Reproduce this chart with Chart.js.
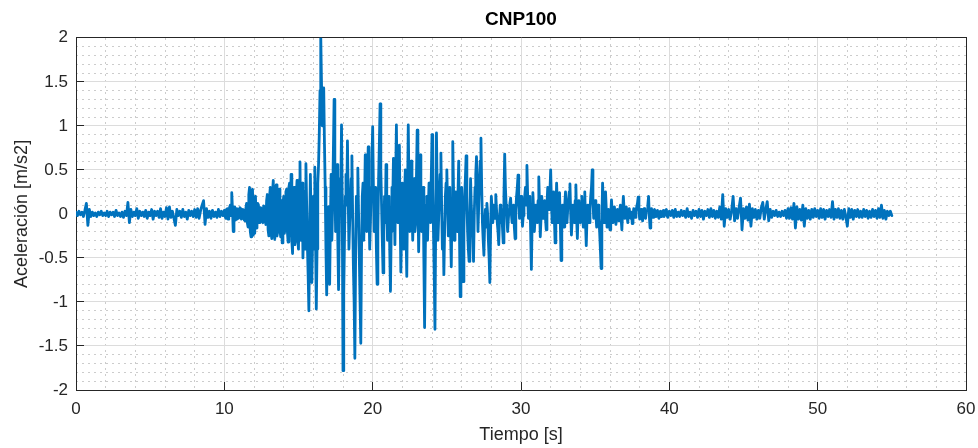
<!DOCTYPE html>
<html>
<head>
<meta charset="utf-8">
<title>CNP100</title>
<script src="https://cdn.jsdelivr.net/npm/chart.js@4.4.1/dist/chart.umd.min.js"></script>
<style>
  html, body { margin: 0; padding: 0; background: #fff; }
  canvas { display: block; }
</style>
</head>
<body>
<canvas id="accel" width="978" height="448"></canvas>
<script>
// acceleration [m/s2]
// 0 - 10 s, one sample every 0.1 s (one row = 1 s)
const acc0to10 = [
  0.02, -0.02, 0.03, -0.01, 0.02, -0.03, 0.04, 0.12, -0.13, 0.05,
  -0.03, 0.02, -0.02, 0.01, -0.03, 0.02, -0.01, 0.03, -0.02, 0.01,
  -0.02, 0.03, -0.03, 0.02, -0.01, 0.02, -0.03, 0.04, -0.02, 0.01,
  -0.03, 0.02, -0.04, 0.03, -0.02, 0.13, -0.10, 0.05, -0.03, 0.02,
  -0.02, 0.06, -0.05, 0.03, -0.02, 0.02, -0.03, 0.04, -0.05, 0.02,
  -0.02, 0.05, -0.06, 0.03, -0.02, 0.03, -0.04, 0.06, -0.05, 0.02,
  -0.03, 0.07, -0.06, 0.08, -0.04, 0.03, -0.05, -0.13, 0.05, -0.02,
  0.03, -0.04, 0.05, -0.03, 0.02, -0.06, 0.04, -0.02, 0.03, -0.03,
  0.05, -0.04, 0.06, -0.05, 0.04, 0.10, 0.15, -0.12, 0.06, -0.04,
  0.03, -0.05, 0.04, -0.03, 0.02, -0.04, 0.05, -0.03, 0.03, -0.02
];
// 10 - 40 s, strong motion, one sample every 0.05 s (one row = 0.5 s)
const acc10to40 = [
  0.04, -0.03, -0.05, 0.05, 0.06, -0.06, -0.04, 0.07, 0.10, -0.02,
  0.24, 0.05, -0.20, -0.05, 0.08, -0.07, -0.06, 0.06, 0.05, -0.05,
  -0.04, 0.07, 0.06, -0.06, -0.05, 0.05, 0.04, -0.07, -0.08, 0.06,
  0.12, -0.10, -0.15, 0.22, 0.30, -0.20, -0.26, 0.25, 0.28, -0.24,
  -0.22, 0.18, 0.20, -0.16, -0.14, 0.12, 0.10, -0.10, -0.08, 0.07,
  0.06, -0.08, -0.10, 0.09, 0.08, -0.06, -0.12, 0.15, 0.22, -0.18,
  -0.25, 0.20, 0.30, -0.22, -0.28, 0.25, 0.38, -0.15, -0.29, 0.26,
  0.33, -0.25, -0.20, 0.24, 0.28, -0.18, -0.26, 0.15, -0.33, 0.10,
  0.20, -0.22, -0.15, 0.25, 0.28, -0.20, -0.32, 0.30, 0.35, -0.25,
  0.45, -0.30, -0.45, 0.25, 0.30, -0.35, -0.28, 0.20, 0.38, -0.30,
  -0.40, 0.30, 0.59, -0.30, -0.20, 0.35, -0.50, -0.10, 0.25, -0.40,
  0.57, 0.10, -0.35, -0.70, -1.10, -0.20, 0.45, -0.10, -0.78, -0.30,
  0.20, -0.40, 0.53, -0.30, -1.08, -0.40, 0.35, 0.55, 0.90, 1.40,
  2.02, 1.50, 1.00, 1.20, 1.43, 0.80, 0.30, -0.40, -0.92, -0.30,
  0.08, -0.50, -0.80, -0.10, 0.45, -0.30, 0.10, 0.70, 1.30, 0.40,
  -0.20, 0.30, 0.56, -0.30, -0.86, -0.20, 0.40, 0.20, 1.01, 0.10,
  -1.78, -0.90, -0.30, 0.20, 0.45, 0.10, 0.83, 0.20, -0.40, -0.10,
  0.10, 0.40, 0.66, 0.00, -0.60, -1.00, -1.64, -0.50, 0.20, 0.10,
  0.52, 0.00, -0.50, -1.00, -1.47, -0.40, 0.20, 0.35, -0.30, 0.10,
  0.67, 0.20, -0.20, 0.40, 0.76, 0.10, -0.40, -0.10, 0.30, 0.60,
  0.99, 0.30, -0.20, 0.10, 0.30, -0.40, -0.80, -0.20, 0.40, 0.80,
  1.25, 0.50, 0.10, -0.30, -0.67, -0.20, 0.20, -0.10, 0.56, 0.10,
  -0.30, -0.10, 0.20, -0.40, -0.88, -0.20, 0.30, 0.10, 0.63, 0.20,
  -0.35, 0.40, 1.01, 0.30, -0.10, 0.30, 0.78, 0.00, -0.66, -0.20,
  0.35, 0.10, -0.40, 0.20, 0.50, -0.20, -0.71, 0.20, 1.01, 0.30,
  -0.20, 0.20, 0.60, 0.10, -0.30, 0.05, 0.40, -0.20, -0.10, 0.40,
  0.95, 0.20, -0.43, 0.10, 0.67, 0.20, -0.20, 0.10, 0.30, -0.50,
  -1.29, -0.40, 0.10, 0.20, -0.30, 0.05, 0.35, 0.10, -0.10, 0.40,
  0.90, 0.30, -0.20, -0.70, -1.31, -0.10, 0.92, 0.30, -0.30, -0.05,
  0.20, 0.45, 0.69, 0.10, -0.40, -0.10, -0.69, -0.20, 0.20, 0.35,
  0.50, 0.10, -0.25, 0.05, 0.30, -0.20, -0.60, 0.10, 0.82, 0.30,
  -0.30, 0.05, 0.25, -0.05, -0.20, 0.20, 0.60, -0.20, -0.94, -0.30,
  0.30, -0.20, -0.77, -0.20, 0.20, 0.40, 0.66, 0.20, -0.20, -0.40,
  -0.54, -0.10, 0.40, 0.10, -0.10, -0.30, -0.54, 0.00, 0.30, 0.45,
  0.65, 0.20, -0.20, 0.10, 0.40, 0.60, 0.86, 0.30, -0.10, -0.30,
  -0.47, -0.10, 0.05, -0.15, 0.12, 0.00, -0.30, -0.50, -0.78, -0.20,
  0.20, 0.05, -0.10, 0.10, 0.05, -0.05, 0.22, 0.05, -0.10, -0.20,
  -0.35, -0.05, 0.10, -0.10, 0.05, -0.15, -0.33, 0.20, 0.68, 0.30,
  0.10, -0.05, -0.20, -0.05, 0.05, 0.12, 0.18, 0.00, -0.10, 0.05,
  0.10, -0.15, -0.28, 0.05, 0.20, 0.30, 0.44, 0.10, -0.05, 0.10,
  0.20, 0.05, -0.14, -0.02, 0.10, 0.20, 0.30, 0.10, 0.55, 0.20,
  -0.05, 0.10, 0.20, -0.20, -0.63, -0.10, 0.24, 0.05, -0.20, -0.05,
  0.10, 0.00, -0.10, 0.15, 0.42, 0.10, -0.26, -0.05, 0.20, 0.05,
  -0.05, 0.10, 0.15, -0.05, -0.18, 0.10, 0.30, 0.10, 0.05, 0.25,
  0.50, 0.15, -0.10, 0.05, 0.25, -0.05, -0.33, 0.00, 0.35, 0.10,
  -0.10, 0.10, 0.24, -0.10, -0.53, -0.10, 0.10, -0.05, -0.15, 0.10,
  0.25, 0.05, -0.10, 0.05, 0.15, 0.25, 0.34, 0.00, -0.24, -0.05,
  0.10, 0.00, -0.10, 0.15, 0.33, -0.05, -0.28, 0.00, 0.15, 0.05,
  -0.10, 0.05, 0.20, 0.00, -0.15, 0.10, 0.25, -0.10, -0.36, -0.05,
  0.10, 0.00, -0.10, 0.05, 0.20, 0.30, 0.50, 0.15, -0.05, 0.05,
  0.15, 0.00, -0.15, -0.05, 0.10, -0.05, -0.20, -0.40, -0.62, -0.10,
  0.35, 0.10, -0.10, 0.05, 0.25, 0.05, -0.15, -0.05, 0.05, -0.10,
  -0.18, 0.00, 0.16, 0.02, -0.10, 0.03, 0.08, -0.04, -0.12, 0.00,
  0.05, -0.03, -0.08, 0.04, 0.10, -0.05, -0.18, 0.02, 0.20, 0.05,
  -0.05, 0.03, 0.08, -0.02, -0.10, 0.02, 0.06, -0.03, -0.05, 0.02,
  -0.11, -0.02, 0.06, 0.00, -0.04, 0.03, 0.08, 0.12, 0.19, 0.04,
  -0.06, 0.02, 0.05, -0.03, -0.08, 0.02, 0.06, -0.02, -0.05, 0.03,
  0.04, 0.10, 0.20, -0.02, -0.16, -0.04, 0.06, -0.02, -0.04, 0.03,
  0.05, -0.02, -0.03, 0.03, 0.04, -0.02, -0.05, 0.02, 0.03, -0.03,
  -0.02, 0.03, 0.04, -0.03, -0.03, 0.04, 0.05, -0.02, -0.04, 0.02
];
// 40 - 55 s, one sample every 0.1 s (one row = 1 s)
const acc40to55 = [
  0.03, -0.02, 0.04, -0.04, 0.05, -0.03, 0.02, -0.03, 0.04, -0.02,
  0.03, -0.04, 0.06, -0.03, 0.02, -0.05, 0.04, -0.02, 0.03, -0.04,
  0.05, -0.03, 0.04, -0.06, 0.03, -0.02, 0.05, -0.04, 0.06, -0.03,
  0.04, -0.05, 0.03, -0.04, 0.08, -0.06, 0.22, -0.14, 0.06, -0.04,
  0.05, -0.06, 0.04, 0.20, -0.08, 0.06, -0.05, 0.07, 0.18, -0.18,
  0.06, -0.05, 0.08, -0.07, 0.11, -0.14, 0.06, -0.04, 0.05, -0.06,
  0.04, -0.05, 0.07, 0.13, -0.06, 0.05, 0.14, -0.08, 0.05, -0.04,
  0.03, -0.02, 0.04, -0.03, 0.02, -0.03, 0.03, -0.02, 0.04, -0.05,
  0.06, -0.05, 0.07, -0.06, 0.12, -0.16, 0.08, -0.06, 0.05, -0.07,
  0.10, -0.14, 0.06, -0.05, 0.04, -0.06, 0.05, -0.04, 0.06, -0.03,
  0.04, -0.05, 0.06, -0.04, 0.05, -0.06, 0.04, -0.03, 0.05, -0.04,
  0.14, -0.06, 0.05, -0.04, 0.06, -0.05, 0.04, -0.06, 0.05, -0.03,
  -0.14, 0.06, -0.04, 0.05, -0.06, 0.04, -0.03, 0.05, -0.04, 0.03,
  -0.04, 0.05, -0.03, 0.04, -0.05, 0.03, -0.04, 0.05, -0.03, 0.04,
  -0.05, 0.06, -0.04, 0.10, -0.05, 0.04, -0.06, 0.03, -0.02, 0.03,
  -0.02
];

// [start time, step, samples]
const segments = [
    [0, 0.1, acc0to10],
    [10, 0.05, acc10to40],
    [40, 0.1, acc40to55]
];

const points = [];
segments.forEach(([t0, step, vals]) => {
    vals.forEach((a, i) => points.push({ x: +(t0 + i * step).toFixed(3), y: a }));
});

const ink = '#262626';
const fontName = '"Liberation Sans", Arial, Helvetica, sans-serif';
const majorGrid = '#dcdcdc';
const minorGrid = '#cccccc';
const tickLen = 8;

// only the major steps get an inward tick mark on the top / right edges
const majorTick = (every) => (ctx) =>
    ctx.tick && Math.abs(ctx.tick.value / every - Math.round(ctx.tick.value / every)) < 1e-6 ? ink : 'rgba(0,0,0,0)';

new Chart(document.getElementById('accel'), {
    type: 'line',
    data: {
        datasets: [{
            label: 'CNP100',
            data: points,
            borderColor: '#0072BD',
            borderWidth: 2.8,
            borderJoinStyle: 'round',
            borderCapStyle: 'round',
            pointRadius: 0,
            tension: 0,
            fill: false
        }]
    },
    options: {
        responsive: false,
        animation: false,
        layout: { padding: { left: 0, right: 12, top: 0, bottom: 0 } },
        plugins: {
            legend: { display: false },
            tooltip: { enabled: false },
            title: {
                display: true,
                text: 'CNP100',
                fullSize: false,
                color: '#000',
                font: { family: fontName, size: 19, weight: 'bold' },
                padding: { top: 8, bottom: 7 }
            }
        },
        scales: {
            // dotted minor grid + top/right box edges
            xMinor: {
                type: 'linear',
                position: 'top',
                min: 0, max: 60,
                ticks: { display: false, stepSize: 2 },
                grid: { color: minorGrid, tickLength: -tickLen, tickColor: majorTick(10), tickBorderDash: [] },
                border: { display: true, color: ink, width: 1, dash: [2, 4] },
                afterFit: (s) => { s.height = 0; }
            },
            yMinor: {
                type: 'linear',
                position: 'right',
                min: -2, max: 2,
                ticks: { display: false, stepSize: 0.1 },
                grid: { color: minorGrid, tickLength: -tickLen, tickColor: majorTick(0.5), tickBorderDash: [] },
                border: { display: true, color: ink, width: 1, dash: [2, 4] },
                afterFit: (s) => { s.width = 0; }
            },
            x: {
                type: 'linear',
                position: 'bottom',
                min: 0, max: 60,
                ticks: { stepSize: 10, color: ink, padding: 9 + tickLen, font: { family: fontName, size: 17 } },
                grid: { color: majorGrid, tickLength: -tickLen, tickColor: ink },
                border: { color: ink, width: 1 },
                title: {
                    display: true,
                    text: 'Tiempo [s]',
                    color: ink,
                    font: { family: fontName, size: 18 },
                    padding: { top: 0, bottom: 2 }
                },
                afterFit: (s) => {
                    s.height = 58;
                    s.paddingLeft = 0;
                    s.paddingRight = 0;
                }
            },
            y: {
                type: 'linear',
                position: 'left',
                min: -2, max: 2,
                ticks: {
                    stepSize: 0.5,
                    color: ink,
                    padding: 8 + tickLen,
                    font: { family: fontName, size: 17 },
                    callback: (v) => String(Math.round(v * 10) / 10)
                },
                grid: { color: majorGrid, tickLength: -tickLen, tickColor: ink },
                border: { color: ink, width: 1 },
                title: {
                    display: true,
                    text: 'Aceleración [m/s2]',
                    color: ink,
                    font: { family: fontName, size: 18 },
                    padding: { top: 11, bottom: 0 }
                },
                afterFit: (s) => {
                    s.width = 76;
                    s.paddingTop = 0;
                    s.paddingBottom = 0;
                }
            }
        }
    }
});
</script>
</body>
</html>
